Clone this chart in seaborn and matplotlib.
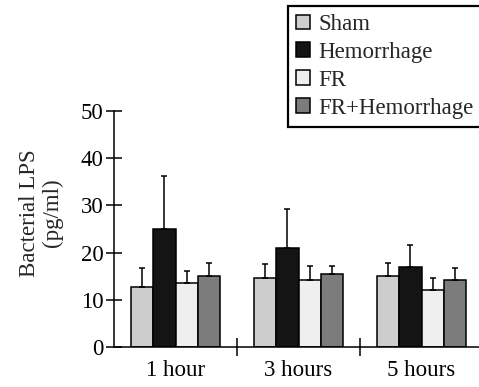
import matplotlib
matplotlib.use("Agg")
import matplotlib.pyplot as plt
import seaborn as sns
import pandas as pd
import numpy as np
from matplotlib.ticker import FixedLocator

# ---- data ----
times = ["1 hour", "3 hours", "5 hours"]
groups = ["Sham", "Hemorrhage", "FR", "FR+Hemorrhage"]
sham = [12.7, 14.7, 15.0]
sham_err = [4.1, 2.9, 2.9]
hemorrhage = [24.9, 20.9, 17.0]
hemorrhage_err = [11.3, 8.3, 4.6]
fr = [13.5, 14.3, 12.1]
fr_err = [2.7, 2.8, 2.6]
fr_hem = [15.0, 15.4, 14.2]
fr_hem_err = [2.9, 1.7, 2.6]
y_ticks = [0, 10, 20, 30, 40, 50]

values = [sham, hemorrhage, fr, fr_hem]
errors = [sham_err, hemorrhage_err, fr_err, fr_hem_err]
colors = ["#cdcdcd", "#141414", "#efefef", "#7c7c7c"]

rows = []
for g, vals in zip(groups, values):
    for t, v in zip(times, vals):
        rows.append({"time": t, "group": g, "value": v})
df = pd.DataFrame(rows)

sns.set_theme(style="ticks")
plt.rcParams["font.family"] = ["Liberation Serif", "DejaVu Serif"]
FS = 16.5

W, H = 479, 387
fig = plt.figure(figsize=(W / 100, H / 100), dpi=100)
ax = fig.add_axes([114 / W, (H - 347) / H, 365 / W, 236 / H])

sns.barplot(data=df, x="time", y="value", hue="group", order=times,
            hue_order=groups, palette=colors, saturation=1, width=0.72,
            edgecolor="black", linewidth=1.1, errorbar=None, ax=ax)

for cont, err in zip(ax.containers, errors):
    xs = [p.get_x() + p.get_width() / 2 for p in cont.patches]
    ys = [p.get_height() for p in cont.patches]
    ax.errorbar(xs, ys, yerr=[np.zeros(len(err)), err], fmt="none",
                ecolor="black", elinewidth=1.1, capsize=2.5, capthick=1.1,
                zorder=1)

ax.set_xlim(-0.5, -0.5 + 365 / 123)
ax.set_ylim(0, 50)
ax.set_yticks(y_ticks)
ax.set_yticklabels([str(v) for v in y_ticks], fontsize=FS)
ax.tick_params(axis="y", direction="inout", length=11, width=1.1, pad=2,
               colors="black")
ax.tick_params(axis="x", which="major", length=0, pad=9, labelsize=FS,
               colors="black")
ax.xaxis.set_minor_locator(FixedLocator([0.5, 1.5]))
ax.tick_params(axis="x", which="minor", direction="inout", length=13,
               width=1.1, colors="black")
for lab in ax.get_xticklabels():
    lab.set_fontsize(FS)

sns.despine(ax=ax)
for s in ["left", "bottom"]:
    ax.spines[s].set_linewidth(1.1)
    ax.spines[s].set_color("black")

ax.set_xlabel("")
ax.set_ylabel("Bacterial LPS\n(pg/ml)", fontsize=FS, linespacing=1.1)
ax.yaxis.label.set_va("center")
ax.yaxis.set_label_coords((41 - 114) / 365, (347 - 213) / 236)

handles, labels = ax.get_legend_handles_labels()
if ax.get_legend() is not None:
    ax.get_legend().remove()
leg = fig.legend(handles, labels, loc="upper left",
                 bbox_to_anchor=(288 / W, 1 - 6 / H), borderaxespad=0,
                 fontsize=FS, frameon=True, fancybox=False, framealpha=1,
                 edgecolor="black", handlelength=0.62, handleheight=0.62,
                 handletextpad=0.35, labelspacing=0.3, borderpad=0.35)
leg.get_frame().set_linewidth(1.6)

fig.savefig("out.png", dpi=100)
